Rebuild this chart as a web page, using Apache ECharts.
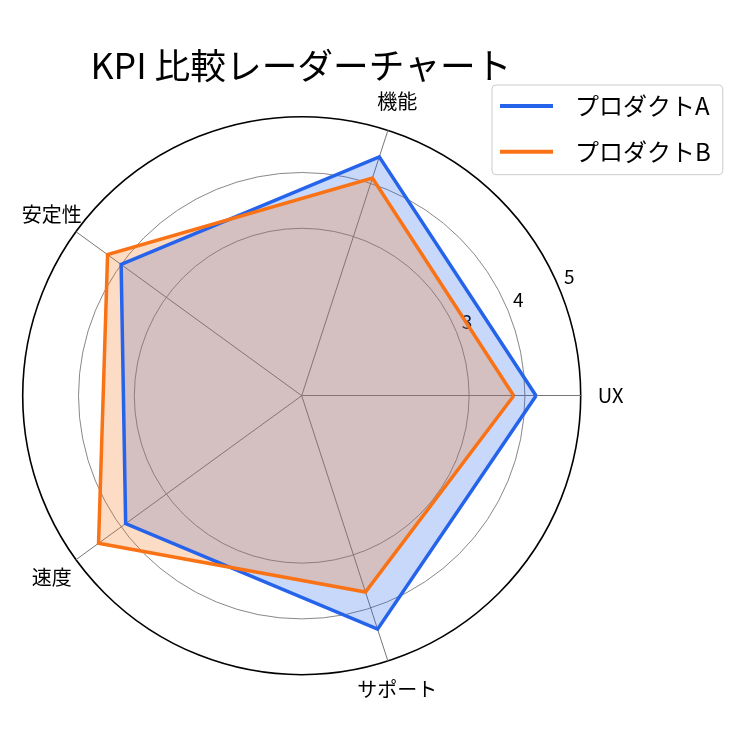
<!DOCTYPE html>
<html><head><meta charset="utf-8">
<script src="https://cdn.jsdelivr.net/npm/echarts@6/dist/echarts.min.js"></script>
<style>html,body{margin:0;padding:0;background:#fff}#c{width:750px;height:750px}</style>
</head><body><div id="c"></div>
<script>
const titleText = 'KPI 比較レーダーチャート';
const categories = ['UX', '機能', '安定性', '速度', 'サポート'];
const seriesNames = ['プロダクトA', 'プロダクトB'];
const productA = [4.2, 4.5, 4.0, 3.9, 4.4];
const productB = [3.8, 4.1, 4.3, 4.5, 3.7];
const radialTicks = [3, 4, 5];
const rMin = 0, rMax = 5;
const colors = ['#2563eb', '#f97316'];
const FONT = '"Noto Sans CJK JP", "Noto Sans", sans-serif';
const CX = 301.7, CY = 395.7, R = 279;

const chart = echarts.init(document.getElementById('c'), null, {renderer: 'canvas'});
const seriesValues = [productA, productB];
chart.setOption({
  backgroundColor: '#fff',
  animation: false,
  textStyle: {fontFamily: FONT},
  title: {
    text: titleText, left: 296, top: 43, textAlign: 'center',
    textStyle: {fontSize: 35.7, fontWeight: 'normal', color: '#000', fontFamily: FONT}
  },
  legend: {
    orient: 'vertical', left: 492, top: 85,
    padding: [9, 12, 11, 8], itemGap: 21.7,
    itemWidth: 53, itemHeight: 4, icon: 'rect',
    backgroundColor: '#fff', borderColor: '#cccccc', borderWidth: 1, borderRadius: 4,
    textStyle: {fontSize: 24, color: '#000', lineHeight: 24, padding: [0, 0, 0, 17], fontFamily: FONT},
    data: seriesNames.map((n, i) => ({name: n, itemStyle: {color: colors[i]}}))
  },
  polar: {center: [CX, CY], radius: R},
  angleAxis: {
    type: 'value', min: 0, max: 360, startAngle: 23.5,
    axisLine: {show: true, lineStyle: {color: '#000', width: 1.6}},
    axisTick: {show: false}, axisLabel: {show: false}, splitLine: {show: false}
  },
  radiusAxis: {
    type: 'value', min: rMin, max: rMax, interval: 1,
    axisLine: {show: false}, axisTick: {show: false}, splitLine: {show: false},
    axisLabel: {
      formatter: v => radialTicks.includes(v) ? String(v) : '',
      fontSize: 19, color: '#000', fontFamily: FONT,
      align: 'center', padding: [0, 0, 0, 30]
    }
  },
  radar: {
    center: [CX, CY], radius: R, startAngle: 0, shape: 'circle', splitNumber: 5,
    indicator: categories.map(n => ({name: n, min: rMin, max: rMax})),
    axisName: {color: '#000', fontSize: 20, align: 'center', verticalAlign: 'middle', fontFamily: FONT},
    nameGap: 30,
    axisLine: {lineStyle: {color: '#777', width: 1}},
    splitLine: {lineStyle: {color: ['rgba(0,0,0,0)', 'rgba(0,0,0,0)', 'rgba(0,0,0,0)', '#888', '#888', 'rgba(0,0,0,0)'], width: 1}},
    splitArea: {show: false}, axisTick: {show: false}, axisLabel: {show: false}
  },
  series: [{
    type: 'radar', symbol: 'none', z: 2,
    data: seriesNames.map((name, i) => ({
      name: name,
      value: seriesValues[i],
      itemStyle: {color: colors[i]},
      lineStyle: {color: colors[i], width: 0, opacity: 0},
      areaStyle: {color: colors[i], opacity: 0.25}
    }))
  }, {
    type: 'radar', symbol: 'none', z: 3,
    data: seriesNames.map((name, i) => ({
      name: name,
      value: seriesValues[i],
      itemStyle: {color: colors[i]},
      lineStyle: {color: colors[i], width: 3.5, join: 'miter'}
    }))
  }]
});
</script></body></html>
